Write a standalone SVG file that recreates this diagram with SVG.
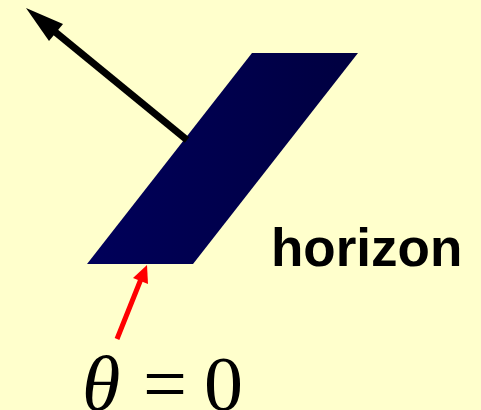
<svg xmlns="http://www.w3.org/2000/svg" width="481" height="410" viewBox="0 0 481 410">
  <defs>
    <linearGradient id="g" x1="0" y1="0" x2="1" y2="0">
      <stop offset="0" stop-color="#00005A"/>
      <stop offset="1" stop-color="#000040"/>
    </linearGradient>
    <style>
      .lbl{font-family:"Liberation Sans",Arial,sans-serif;font-weight:bold;font-size:53px;fill:#000}
      .math{font-family:"Liberation Serif","Times New Roman",serif;font-size:78px;fill:#000}
    </style>
  </defs>
  <rect width="481" height="410" fill="#FFFFCC"/>
  <g id="plane">
    <polygon points="87,264 193,264 358,53 252,53" fill="url(#g)"/>
  </g>
  <g id="connectors">
    <line x1="187" y1="140" x2="54" y2="31" stroke="#000" stroke-width="7"/>
    <polygon points="26,8 63,24 49,41" fill="#000"/>
    <line x1="117" y1="339" x2="141" y2="279" stroke="#FF0000" stroke-width="5"/>
    <polygon points="147,265 148,284 133,278" fill="#FF0000"/>
  </g>
  <g id="horizon-label">
    <text class="lbl" x="271" y="266">horizon</text>
  </g>
  <g id="theta-label">
    <text class="math" x="82" y="410" font-style="italic">θ</text>
    <text class="math" x="143" y="410">=</text>
    <text class="math" x="204" y="410">0</text>
  </g>
</svg>
